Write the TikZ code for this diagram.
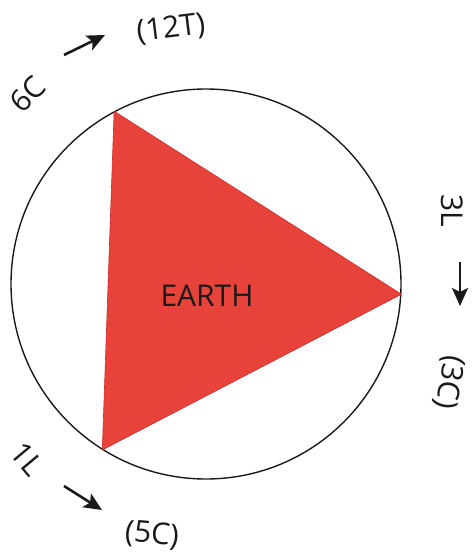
\documentclass[tikz,border=0pt]{standalone}
\usepackage{fontspec}
\setmainfont{Open Sans}
\usetikzlibrary{arrows.meta}
\definecolor{earthred}{HTML}{E8433B}
\definecolor{earthedge}{HTML}{CC2A2A}
\definecolor{penink}{HTML}{1A1A1A}
\tikzset{
  orbit/.style={draw=penink, line width=1.4pt, circle, minimum size=390pt, inner sep=0pt},
  plate/.style={fill=earthred, draw=earthedge, line width=0.6pt, line join=round},
  lbl/.style={font=\fontsize{30}{30}\selectfont, text=penink, inner sep=1pt},
  arr/.style={-{Stealth[length=18pt, width=16pt, inset=4pt]}, line width=2.6pt, color=penink},
}

\begin{document}
\begin{tikzpicture}[x=1pt, y=-1pt]
  \useasboundingbox (0,0) rectangle (474,556);
  \node[orbit] (orbit) at (206,284) {};
  \fill[plate] (orbit.118.8) -- (orbit.-3) -- (orbit.238.8) -- cycle;
  \node[lbl] (earth) at (207,296) {EARTH};
  % turn labels round the orbit
  \foreach \nm/\x/\y/\r/\tx in {
      c6/28/94/45/{6C}, t12/171/29/7/{(12T)},
      l3/452/211/-90/{3L}, c3/449/382/-100/{(3C)},
      l1/27/459/-50/{1L}, c5/152/535/-5/{(5C)}}
  {
    \node[lbl, rotate=\r] (\nm) at (\x,\y) {\tx};
  }
  \coordinate (a1s) at (64,55);   \coordinate (a1e) at (105,35);
  \coordinate (a2s) at (460,262); \coordinate (a2e) at (460,306);
  \coordinate (a3s) at (64,486);  \coordinate (a3e) at (102,510);
  \foreach \i in {1,2,3}
    \draw[arr] (a\i s) -- (a\i e);
\end{tikzpicture}
\end{document}
